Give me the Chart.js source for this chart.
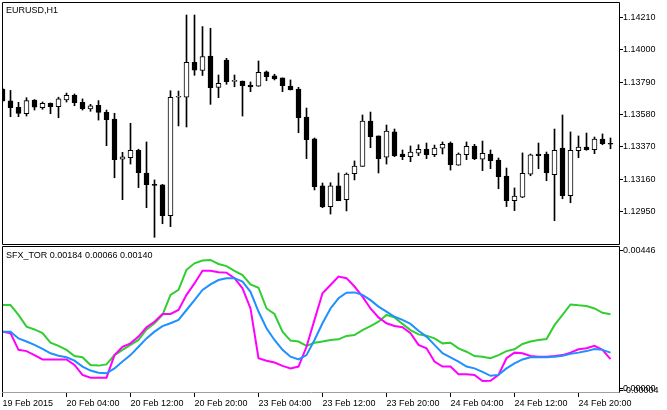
<!DOCTYPE html>
<html>
<head>
<meta charset="utf-8">
<script src="https://cdn.jsdelivr.net/npm/chart.js@4.4.1/dist/chart.umd.min.js"></script>
<style>
  html, body { margin: 0; padding: 0; background: #fff; }
  #wrap { position: relative; width: 667px; height: 410px; overflow: hidden; background: #fff; }
  canvas { position: absolute; left: 0; }
  #main { top: 0; }
  #ind { top: 246px; }
  .lbl { position: absolute; font: 9px 'Liberation Sans', Arial, sans-serif; color: #000; white-space: nowrap; }
</style>
</head>
<body>
<div id="wrap">
  <canvas id="main" width="667" height="246"></canvas>
  <canvas id="ind" width="667" height="164"></canvas>
  <div class="lbl" style="left:6px;top:5px">EURUSD,H1</div>
  <div class="lbl" style="left:6px;top:250px">SFX_TOR 0.00184 0.00066 0.00140</div>
</div>
<script>
// EURUSD H1 candles, 19 Feb 20:00 .. 24 Feb 20:00
const opens = [1.13745, 1.13668, 1.13627, 1.13585, 1.13674, 1.13624, 1.13653, 1.13631, 1.13674, 1.13705,
  1.13659, 1.13616, 1.13640, 1.13594, 1.13551, 1.13290, 1.13300, 1.13348, 1.13201, 1.13123,
  1.13125, 1.12924, 1.13692, 1.13692, 1.13918, 1.13865, 1.13959, 1.13756, 1.13933, 1.13795,
  1.13797, 1.13771, 1.13763, 1.13856, 1.13830, 1.13817, 1.13765, 1.13745, 1.13564, 1.13423,
  1.13117, 1.12983, 1.13117, 1.13028, 1.13196, 1.13244, 1.13538, 1.13441, 1.13303, 1.13467,
  1.13324, 1.13307, 1.13329, 1.13355, 1.13320, 1.13361, 1.13395, 1.13251, 1.13320, 1.13376,
  1.13290, 1.13324, 1.13285, 1.13181, 1.13021, 1.13045, 1.13194, 1.13324, 1.13324, 1.13190,
  1.13363, 1.13054, 1.13345, 1.13369, 1.13352, 1.13421, 1.13389];
const highs = [1.13752, 1.13736, 1.13659, 1.13689, 1.13677, 1.13661, 1.13655, 1.13692, 1.13719, 1.13713,
  1.13681, 1.13646, 1.13670, 1.13609, 1.13588, 1.13335, 1.13523, 1.13355, 1.13402, 1.13156,
  1.13127, 1.13734, 1.13732, 1.14225, 1.14225, 1.14150, 1.14139, 1.13836, 1.13944, 1.13836,
  1.13797, 1.13791, 1.13927, 1.13862, 1.13841, 1.13817, 1.13804, 1.13756, 1.13622, 1.13428,
  1.13136, 1.13138, 1.13201, 1.13201, 1.13279, 1.13577, 1.13596, 1.13441, 1.13512, 1.13486,
  1.13350, 1.13376, 1.13384, 1.13395, 1.13382, 1.13402, 1.13402, 1.13331, 1.13402, 1.13387,
  1.13408, 1.13350, 1.13298, 1.13233, 1.13104, 1.13331, 1.13324, 1.13395, 1.13337, 1.13486,
  1.13577, 1.13467, 1.13441, 1.13460, 1.13434, 1.13454, 1.13428];
const lows = [1.13661, 1.13566, 1.13566, 1.13570, 1.13609, 1.13614, 1.13585, 1.13559, 1.13661, 1.13637,
  1.13609, 1.13601, 1.13544, 1.13378, 1.13170, 1.13028, 1.13259, 1.13106, 1.12976, 1.12784,
  1.12872, 1.12853, 1.13506, 1.13499, 1.13834, 1.13833, 1.13646, 1.13689, 1.13776, 1.13760,
  1.13570, 1.13728, 1.13763, 1.13799, 1.13804, 1.13728, 1.13739, 1.13462, 1.13294, 1.13091,
  1.12976, 1.12935, 1.13021, 1.12955, 1.13156, 1.13244, 1.13365, 1.13201, 1.13259, 1.13307,
  1.13287, 1.13274, 1.13313, 1.13294, 1.13307, 1.13324, 1.13220, 1.13251, 1.13287, 1.13287,
  1.13216, 1.13229, 1.13099, 1.12983, 1.12957, 1.13041, 1.13183, 1.13229, 1.13151, 1.12892,
  1.13034, 1.13008, 1.13300, 1.13348, 1.13326, 1.13384, 1.13358];
const closes = [1.13668, 1.13625, 1.13587, 1.13670, 1.13627, 1.13653, 1.13631, 1.13681, 1.13705, 1.13657,
  1.13618, 1.13637, 1.13594, 1.13546, 1.13287, 1.13305, 1.13348, 1.13203, 1.13125, 1.13121,
  1.12924, 1.13692, 1.13693, 1.13918, 1.13867, 1.13956, 1.13754, 1.13782, 1.13793, 1.13795,
  1.13767, 1.13758, 1.13854, 1.13825, 1.13810, 1.13767, 1.13739, 1.13559, 1.13417, 1.13112,
  1.12981, 1.13117, 1.13021, 1.13194, 1.13246, 1.13538, 1.13436, 1.13294, 1.13473, 1.13311,
  1.13307, 1.13337, 1.13355, 1.13320, 1.13363, 1.13387, 1.13255, 1.13324, 1.13374, 1.13294,
  1.13329, 1.13281, 1.13177, 1.13021, 1.13052, 1.13199, 1.13318, 1.13313, 1.13201, 1.13348,
  1.13054, 1.13348, 1.13369, 1.13352, 1.13421, 1.13391, 1.13387];

// SFX_TOR indicator buffers
const torGreen = [0.00271, 0.00271, 0.00239, 0.00201, 0.00192, 0.00180, 0.00149, 0.00139, 0.00126, 0.00106,
  0.00102, 0.00077, 0.00075, 0.00079, 0.00109, 0.00126, 0.00142, 0.00158, 0.00192, 0.00212,
  0.00239, 0.00304, 0.00320, 0.00385, 0.00406, 0.00415, 0.00417, 0.00404, 0.00397, 0.00382,
  0.00368, 0.00338, 0.00327, 0.00260, 0.00242, 0.00185, 0.00156, 0.00153, 0.00139, 0.00149,
  0.00153, 0.00158, 0.00160, 0.00171, 0.00174, 0.00190, 0.00203, 0.00217, 0.00239, 0.00231,
  0.00210, 0.00190, 0.00176, 0.00172, 0.00163, 0.00147, 0.00149, 0.00131, 0.00120, 0.00106,
  0.00104, 0.00099, 0.00109, 0.00122, 0.00128, 0.00145, 0.00153, 0.00158, 0.00161, 0.00206,
  0.00239, 0.00273, 0.00270, 0.00268, 0.00260, 0.00246, 0.00241];
const torMagenta = [0.00185, 0.00180, 0.00126, 0.00122, 0.00109, 0.00095, 0.00095, 0.00095, 0.00095, 0.00077,
  0.00045, 0.00036, 0.00036, 0.00036, 0.00109, 0.00136, 0.00147, 0.00169, 0.00199, 0.00217,
  0.00242, 0.00242, 0.00255, 0.00304, 0.00341, 0.00382, 0.00382, 0.00377, 0.00376, 0.00358,
  0.00325, 0.00260, 0.00099, 0.00091, 0.00085, 0.00074, 0.00066, 0.00072, 0.00136, 0.00223,
  0.00309, 0.00336, 0.00363, 0.00358, 0.00331, 0.00298, 0.00260, 0.00231, 0.00212, 0.00203,
  0.00199, 0.00180, 0.00142, 0.00131, 0.00088, 0.00072, 0.00072, 0.00047, 0.00047, 0.00045,
  0.00025, 0.00026, 0.00045, 0.00099, 0.00117, 0.00115, 0.00106, 0.00104, 0.00104, 0.00106,
  0.00109, 0.00117, 0.00128, 0.00131, 0.00139, 0.00126, 0.00096];
const torBlue = [0.00185, 0.00185, 0.00163, 0.00153, 0.00142, 0.00129, 0.00115, 0.00107, 0.00102, 0.00091,
  0.00072, 0.00059, 0.00052, 0.00050, 0.00066, 0.00088, 0.00109, 0.00136, 0.00163, 0.00185,
  0.00203, 0.00212, 0.00223, 0.00255, 0.00287, 0.00320, 0.00338, 0.00352, 0.00358, 0.00358,
  0.00347, 0.00314, 0.00250, 0.00196, 0.00158, 0.00126, 0.00104, 0.00095, 0.00109, 0.00158,
  0.00212, 0.00260, 0.00293, 0.00311, 0.00312, 0.00304, 0.00287, 0.00266, 0.00250, 0.00233,
  0.00223, 0.00210, 0.00188, 0.00169, 0.00142, 0.00115, 0.00102, 0.00088, 0.00072, 0.00066,
  0.00055, 0.00042, 0.00045, 0.00066, 0.00082, 0.00095, 0.00102, 0.00102, 0.00102, 0.00104,
  0.00107, 0.00113, 0.00117, 0.00122, 0.00129, 0.00126, 0.00117];

// axis ticks
const priceTicks = [1.14210, 1.14000, 1.13790, 1.13580, 1.13370, 1.13160, 1.12950];
const torTicks = [0.00446, 0.00000, -0.00004];
const timeTickBars = [0, 8, 16, 24, 32, 40, 48, 56, 64, 72];
const timeLabels = ['19 Feb 2015', '20 Feb 04:00', '20 Feb 12:00', '20 Feb 20:00', '23 Feb 04:00',
  '23 Feb 12:00', '23 Feb 20:00', '24 Feb 04:00', '24 Feb 12:00', '24 Feb 20:00'];

Chart.defaults.color = '#000';
Chart.defaults.font.family = "'Liberation Sans', Arial, sans-serif";
Chart.defaults.font.size = 9;
Chart.defaults.animation = false;
Chart.defaults.plugins.legend.display = false;
Chart.defaults.plugins.tooltip.enabled = false;

// shared bar axis: 8px per bar, bar 0 half hidden behind the left frame
const xMin = 0.0625, xMax = 77.0625;

// black frame round the plot area (MT4 style)
const framePlugin = {
    id: 'frame',
    afterDraw(chart, args, opts) {
        const { ctx, chartArea: a } = chart;
        const l = a.left - 0.5, t = a.top - 0.5, r = a.right + 0.5, b = a.bottom + 0.5;
        ctx.save();
        ctx.strokeStyle = '#000';
        ctx.lineWidth = 1;
        ctx.beginPath();
        ctx.moveTo(l, b);
        ctx.lineTo(l, t);
        ctx.lineTo(r, t);
        ctx.lineTo(r, b);
        if (opts.bottom) ctx.lineTo(l, b);
        ctx.stroke();
        ctx.restore();
    }
};

function rightAxis(min, max, values) {
    return {
        type: 'linear',
        position: 'right',
        min: min,
        max: max,
        afterBuildTicks: (scale) => { scale.ticks = values.map(v => ({ value: v })); },
        afterFit: (scale) => { scale.width = 48; scale.paddingTop = 0; scale.paddingBottom = 0; },
        ticks: {
            autoSkip: false,
            padding: 0,
            callback: (v) => Number(v).toFixed(5)
        },
        grid: { drawOnChartArea: false, drawTicks: true, tickLength: 4, color: '#000' },
        border: { display: false }
    };
}

const candleIdx = opens.map((_, i) => i);

new Chart(document.getElementById('main'), {
    type: 'bar',
    data: {
        datasets: [{
            // bodies, drawn over the wicks
            data: candleIdx.map(i => ({ x: i, y: [opens[i], closes[i]] })),
            backgroundColor: candleIdx.map(i => closes[i] >= opens[i] ? '#ffffff' : '#000000'),
            borderColor: '#000000',
            borderWidth: 1,
            borderSkipped: false,
            barThickness: 5,
            minBarLength: 1,
            grouped: false
        }, {
            // wicks
            data: candleIdx.map(i => ({ x: i, y: [lows[i], highs[i]] })),
            backgroundColor: '#000000',
            borderWidth: 0,
            barThickness: 1,
            grouped: false
        }]
    },
    options: {
        responsive: false,
        devicePixelRatio: 1,
        layout: { padding: { left: 3, top: 3, right: 0, bottom: 2 } },
        scales: {
            x: { type: 'linear', min: xMin, max: xMax, offset: false, display: false },
            y: rightAxis(1.127407, 1.143027, priceTicks)
        },
        plugins: { frame: { bottom: true } }
    },
    plugins: [framePlugin]
});

new Chart(document.getElementById('ind'), {
    type: 'line',
    data: {
        datasets: [
            { data: torBlue.map((v, i) => ({ x: i, y: v })), borderColor: '#1e90ff' },
            { data: torMagenta.map((v, i) => ({ x: i, y: v })), borderColor: '#ff00ff' },
            { data: torGreen.map((v, i) => ({ x: i, y: v })), borderColor: '#32cd32' }
        ]
    },
    options: {
        responsive: false,
        devicePixelRatio: 1,
        layout: { padding: { left: 3, top: 1, right: 0, bottom: 0 } },
        elements: {
            line: { borderWidth: 2, tension: 0, fill: false },
            point: { radius: 0 }
        },
        scales: {
            x: {
                type: 'linear',
                min: xMin,
                max: xMax,
                offset: false,
                afterBuildTicks: (scale) => { scale.ticks = timeTickBars.map(v => ({ value: v })); },
                afterFit: (scale) => { scale.height = 18; scale.paddingLeft = 0; scale.paddingRight = 0; },
                ticks: {
                    autoSkip: false,
                    maxRotation: 0,
                    align: 'start',
                    padding: 1,
                    callback: (v, idx) => timeLabels[idx]
                },
                grid: { drawOnChartArea: false, drawTicks: true, tickLength: 5, color: '#000' },
                border: { display: true, color: '#a0a0a0', dash: [2, 2] }
            },
            y: rightAxis(-0.000104, 0.004589, torTicks)
        },
        plugins: { frame: { bottom: false } }
    },
    plugins: [framePlugin]
});
</script>
</body>
</html>
